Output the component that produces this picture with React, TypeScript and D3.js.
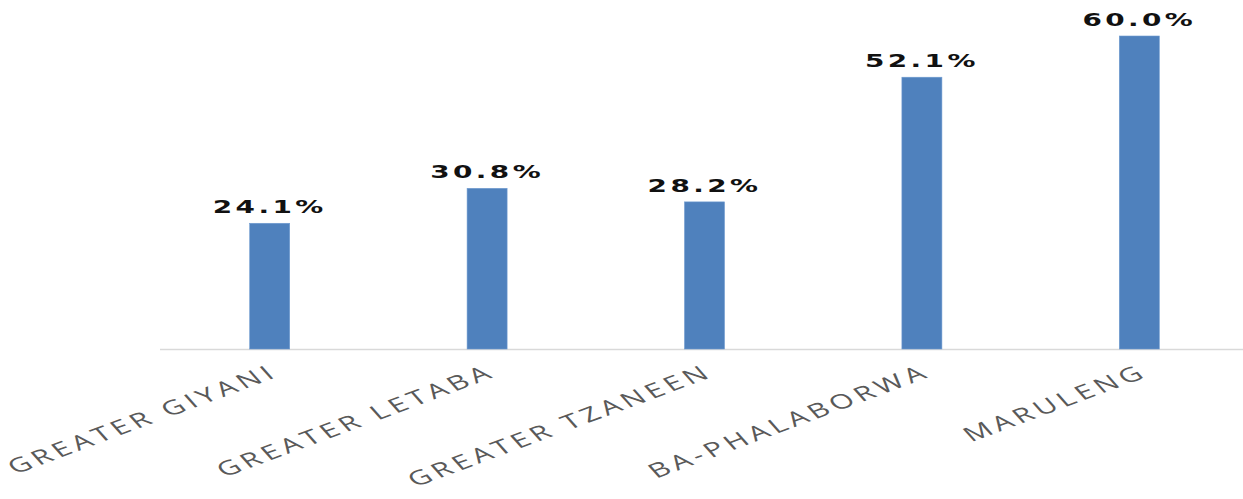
import React from "react";
import * as d3 from "d3";

const categories = ["GREATER GIYANI", "GREATER LETABA", "GREATER TZANEEN", "BA-PHALABORWA", "MARULENG"];
const values = [24.1, 30.8, 28.2, 52.1, 60.0];
const valueLabels = ["24.1%", "30.8%", "28.2%", "52.1%", "60.0%"];

const W = 1243;
const H = 499;
const SX = 1.55;

export default function App() {
  const x = d3.scaleBand<string>().domain(categories).range([161, 1248]).paddingInner(0.816).paddingOuter(0.408);
  const y = d3.scaleLinear().domain([0, 60]).range([349, 36]);
  return (
    <svg width={W} height={H} style={{ position: "absolute", left: 0, top: 0 }}>
      <rect width={W} height={H} fill="#fff" />
      <line x1={160} x2={W} y1={y(0) + 0.5} y2={y(0) + 0.5} stroke="#d9d9d9" strokeWidth={1.5} />
      {categories.map((c, i) => {
        const bx = x(c)!;
        const cx = bx + x.bandwidth() / 2;
        return (
          <g key={c}>
            <rect x={bx} y={y(values[i])} width={x.bandwidth()} height={y(0) - y(values[i])} fill="#4f81bd" stroke="#6f9bd0" strokeWidth={0.6} />
            <text
              transform={`translate(${cx},${y(values[i]) - 10}) scale(${SX},1)`}
              textAnchor="middle"
              fontFamily="DejaVu Sans"
              fontWeight="bold"
              fontSize={18}
              letterSpacing={2.2}
              fill="#111"
            >
              {valueLabels[i]}
            </text>
            <text
              transform={`translate(${cx + 10},${y(0) + 27}) scale(${SX},1) rotate(-30)`}
              textAnchor="end"
              fontFamily="Open Sans"
              fontSize={20}
              letterSpacing={3}
              fill="#595959"
            >
              {c}
            </text>
          </g>
        );
      })}
    </svg>
  );
}
